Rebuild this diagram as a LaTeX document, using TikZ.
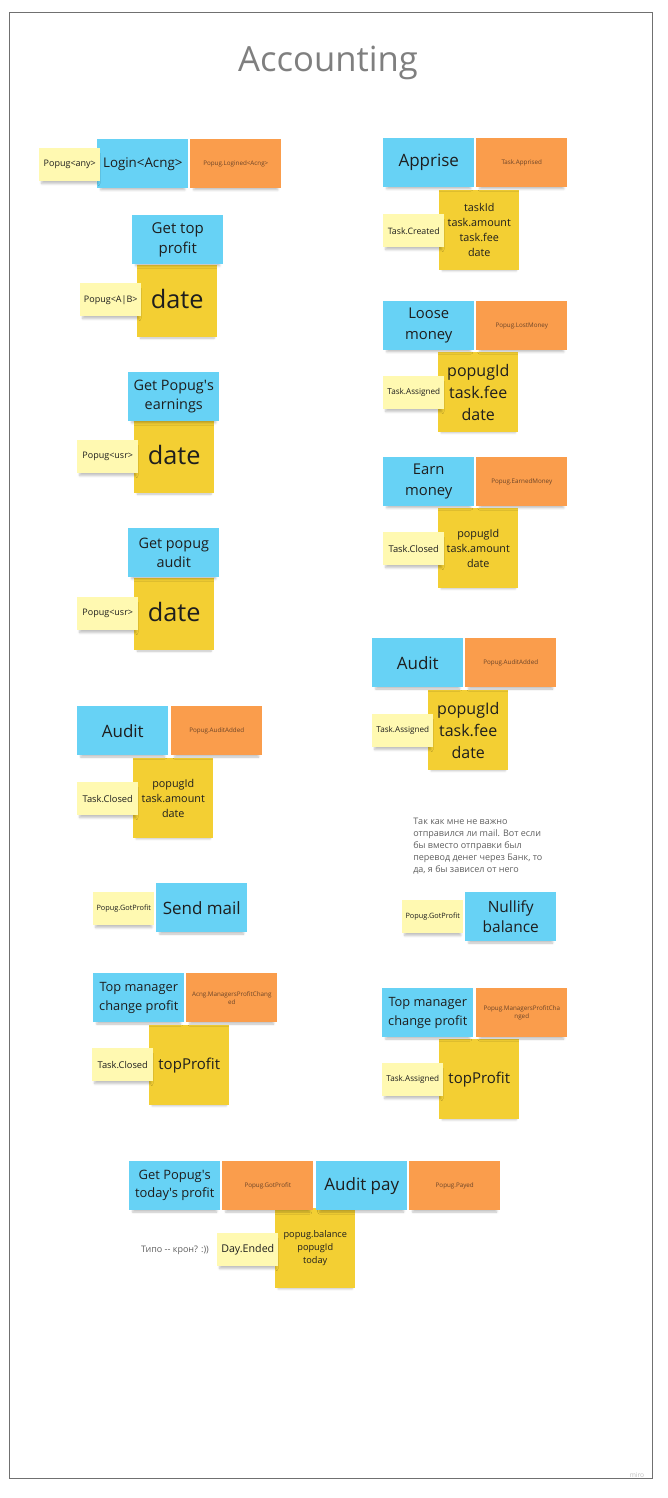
\documentclass[tikz,border=0pt]{standalone}
\usepackage{fontspec}
\setmainfont{Open Sans}
\usetikzlibrary{shadows.blur}
\definecolor{stblue}{HTML}{67D2F5}
\definecolor{storange}{HTML}{FA9D4C}
\definecolor{styellow}{HTML}{F3CF33}
\definecolor{stlight}{HTML}{FFF9B1}
\definecolor{txt}{HTML}{1E1E1E}
\definecolor{otxt}{HTML}{6B4428}
\definecolor{framecol}{HTML}{707070}
\definecolor{titlecol}{HTML}{7F7F7F}
\definecolor{notecol}{HTML}{5E5E5E}
\newcommand\fsz[2]{\fontsize{#1}{#2}\selectfont}
\tikzset{
  sticky/.style={anchor=north west, inner sep=1pt, align=center, text=txt,
    blur shadow={shadow xshift=0pt, shadow yshift=-3pt, shadow scale=0.92,
      shadow opacity=25, shadow blur radius=1.8pt, shadow blur steps=5}},
  bluest/.style={sticky, fill=stblue, minimum width=68.25pt, minimum height=36.75pt},
  orangest/.style={sticky, fill=storange, minimum width=68.25pt, minimum height=36.75pt,
    text=otxt, font=\fsz{4.7}{6}},
  yellowst/.style={sticky, fill=styellow, minimum width=60pt, minimum height=60pt},
  lightst/.style={sticky, fill=stlight, minimum width=45.75pt, minimum height=24.75pt},
  notetext/.style={text=notecol, font=\fsz{6.75}{9}},
}
\begin{document}
\begin{tikzpicture}[x=0.75pt, y=-0.75pt]
\useasboundingbox (0,0) rectangle (667,1498);
\draw[framecol, line width=0.75pt] (9,13) rectangle (652,1478);
\node[text=titlecol, font=\fsz{26}{30}] (title) at (328,63) {Accounting};
\node[text=black!25, font=\fsz{5}{6}, anchor=south] (miro) at (637,1482) {miro};

% ---------- left column ----------
\node[bluest, font=\fsz{10}{12}] (b1) at (97,139) {Login<Acng>};
\node[orangest] (o1) at (190,139) {Popug.Logined<Acng>};
\node[lightst, font=\fsz{6.75}{8}] (l1) at (39,148) {Popug<any>};

\node[yellowst, font=\fsz{19}{22}, minimum height=54pt] (y2) at (137,265) {\raisebox{3pt}{date}};
\node[bluest, font=\fsz{11.25}{15}] (b2) at (132,215) {Get top\\profit};
\node[lightst, font=\fsz{6.75}{8}] (l2) at (80,283) {Popug<A|B>};

\node[yellowst, font=\fsz{19}{22}, minimum height=54pt] (y3) at (134,421) {\raisebox{3pt}{date}};
\node[bluest, font=\fsz{10.8}{14.25}] (b3) at (128,372) {Get Popug\textquotesingle s\\earnings};
\node[lightst, font=\fsz{6.75}{8}] (l3) at (77,440) {Popug<usr>};

\node[yellowst, font=\fsz{19}{22}, minimum height=54pt] (y4) at (134,578) {\raisebox{3pt}{date}};
\node[bluest, font=\fsz{10.8}{14.25}] (b4) at (128,528) {Get popug\\audit};
\node[lightst, font=\fsz{6.75}{8}] (l4) at (77,597) {Popug<usr>};

\node[yellowst, font=\fsz{8.1}{11.25}] (y5) at (133,758) {popugId\\task.amount\\date};
\node[bluest, font=\fsz{12.75}{15}] (b5) at (77,706) {Audit};
\node[orangest] (o5) at (171,706) {Popug.AuditAdded};
\node[lightst, font=\fsz{7}{8}] (l5) at (77,782) {Task.Closed};

\node[bluest, font=\fsz{12.75}{15}] (b6) at (156,883) {Send mail};
\node[lightst, font=\fsz{5.5}{7}] (l6) at (93,892) {Popug.GotProfit};

\node[yellowst, font=\fsz{11.25}{14}] (y7) at (149,1025) {topProfit};
\node[bluest, font=\fsz{9.6}{14.25}] (b7) at (93,973) {Top manager\\change profit};
\node[orangest] (o7) at (186,973) {Acng.ManagersProfitChang\\ed};
\node[lightst, font=\fsz{7}{8}] (l7) at (92,1048) {Task.Closed};

% ---------- right column ----------
\node[yellowst, font=\fsz{8.1}{11.25}] (y8) at (439,190) {taskId\\task.amount\\task.fee\\date};
\node[bluest, font=\fsz{12.75}{15}] (b8) at (383,138) {Apprise};
\node[orangest] (o8) at (476,138) {Task.Apprised};
\node[lightst, font=\fsz{6.6}{8}] (l8) at (383,214) {Task.Created};

\node[yellowst, font=\fsz{12}{16.5}] (y9) at (438,352) {popugId\\task.fee\\date};
\node[bluest, font=\fsz{11.1}{15.5}] (b9) at (383,301) {Loose\\money};
\node[orangest] (o9) at (476,301) {Popug.LostMoney};
\node[lightst, font=\fsz{6.1}{8}] (l9) at (383,376) {Task.Assigned};

\node[yellowst, font=\fsz{8.1}{11.25}] (y10) at (438,508) {popugId\\task.amount\\date};
\node[bluest, font=\fsz{11.1}{15.5}] (b10) at (383,457) {Earn\\money};
\node[orangest] (o10) at (476,457) {Popug.EarnedMoney};
\node[lightst, font=\fsz{7}{8}] (l10) at (383,532) {Task.Closed};

\node[yellowst, font=\fsz{12}{16.5}] (y11) at (428,690) {popugId\\task.fee\\date};
\node[bluest, font=\fsz{12.75}{15}] (b11) at (372,638) {Audit};
\node[orangest] (o11) at (465,638) {Popug.AuditAdded};
\node[lightst, font=\fsz{6.1}{8}] (l11) at (372,714) {Task.Assigned};

\node[notetext, anchor=north west, align=left, inner sep=0pt] (note1) at (413,818)
  {Так как мне не важно\\отправился ли mail. Вот если\\бы вместо отправки был\\перевод денег через Банк, то\\да, я бы зависел от него};

\node[bluest, font=\fsz{11.6}{14.5}] (b12) at (465,892) {Nullify\\balance};
\node[lightst, font=\fsz{5.5}{7}] (l12) at (402,900) {Popug.GotProfit};

\node[yellowst, font=\fsz{11.25}{14}] (y13) at (439,1039) {topProfit};
\node[bluest, font=\fsz{9.6}{14.25}] (b13) at (382,988) {Top manager\\change profit};
\node[orangest] (o13) at (476,988) {Popug.ManagersProfitCha\\nged};
\node[lightst, font=\fsz{6.1}{8}] (l13) at (382,1063) {Task.Assigned};

% ---------- bottom row ----------
\node[yellowst, font=\fsz{6.9}{9.75}] (y15) at (275,1208) {popug.balance\\popugId\\today};
\node[bluest, font=\fsz{9.7}{13.5}] (b14) at (129,1161) {Get Popug\textquotesingle s\\today\textquotesingle s profit};
\node[orangest] (o14) at (222,1161) {Popug.GotProfit};
\node[bluest, font=\fsz{12.75}{15}] (b15) at (316,1161) {Audit pay};
\node[orangest] (o15) at (409,1161) {Popug.Payed};
\node[lightst, font=\fsz{8}{10}] (l15) at (217,1233) {Day.Ended};
\node[notetext] (note2) at (175,1250) {Типо -{}- крон? :))};
\end{tikzpicture}
\end{document}
